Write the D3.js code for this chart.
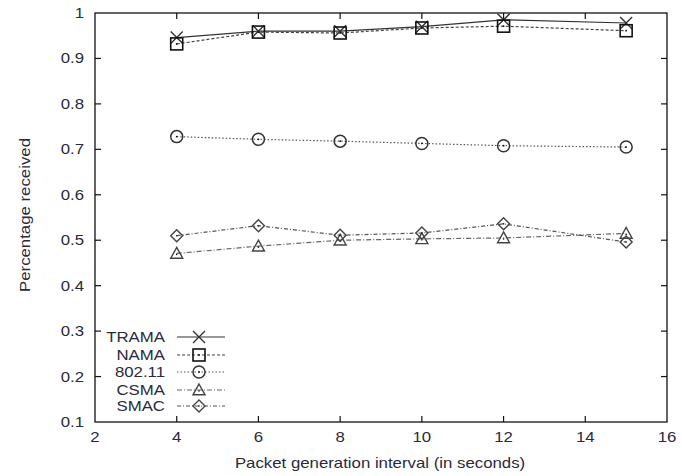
<!DOCTYPE html>
<html><head><meta charset="utf-8">
<script src="https://cdn.jsdelivr.net/npm/d3@7"></script>
<style>body{margin:0;background:#fff}svg{display:block}text{font-family:"Liberation Sans",Arial,sans-serif}</style>
</head><body><svg id="c" width="682" height="476"></svg>
<script>
const xValues = [4, 6, 8, 10, 12, 15];
const seriesNames = ["TRAMA", "NAMA", "802.11", "CSMA", "SMAC"];
const trama = [0.946, 0.960, 0.960, 0.970, 0.985, 0.978];
const nama = [0.932, 0.958, 0.956, 0.967, 0.971, 0.961];
const wifi = [0.728, 0.722, 0.718, 0.713, 0.708, 0.705];
const csma = [0.471, 0.487, 0.500, 0.503, 0.505, 0.515];
const smac = [0.510, 0.532, 0.511, 0.516, 0.536, 0.496];
const xTicks = [2, 4, 6, 8, 10, 12, 14, 16];
const yTicks = [0.1, 0.2, 0.3, 0.4, 0.5, 0.6, 0.7, 0.8, 0.9, 1];

const svg = d3.select("#c");
const L = 95, R = 667, T = 13, B = 422;
const x = d3.scaleLinear().domain([2, 16]).range([L, R]);
const y = d3.scaleLinear().domain([0.1, 1]).range([B, T]);
const txt = "#2a2a3a";
const SX = 1.2;

function label(parent, tx, ty, s, anchor, rot) {
  const tr = rot ? `translate(${tx},${ty}) rotate(-90) scale(${SX},1)` : `translate(${tx},${ty}) scale(${SX},1)`;
  return parent.append("text").attr("transform", tr).attr("text-anchor", anchor)
    .attr("font-size", 14).attr("fill", txt).text(s);
}

const series = [
  {name: seriesNames[0], v: trama, dash: null, color: "#333", sym: "x"},
  {name: seriesNames[1], v: nama, dash: "3,2", color: "#444", sym: "square"},
  {name: seriesNames[2], v: wifi, dash: "1.5,2", color: "#555", sym: "circle"},
  {name: seriesNames[3], v: csma, dash: "5,2,1,2", color: "#666", sym: "triangle"},
  {name: seriesNames[4], v: smac, dash: "4,2,1,2", color: "#555", sym: "diamond"}
];

function marker(g, sym, cx, cy, color) {
  const s = 6;
  if (sym === "x") {
    g.append("path").attr("d", `M${cx-s},${cy-s}L${cx+s},${cy+s}M${cx-s},${cy+s}L${cx+s},${cy-s}`)
      .attr("stroke", color).attr("stroke-width", 1.4).attr("fill", "none");
  } else if (sym === "square") {
    g.append("rect").attr("x", cx-s).attr("y", cy-s).attr("width", 2*s).attr("height", 2*s)
      .attr("fill", "none").attr("stroke", "#111").attr("stroke-width", 1.6);
    g.append("circle").attr("cx", cx).attr("cy", cy).attr("r", 0.9).attr("fill", "#111");
  } else if (sym === "circle") {
    g.append("circle").attr("cx", cx).attr("cy", cy).attr("r", s)
      .attr("fill", "none").attr("stroke", "#333").attr("stroke-width", 1.5);
    g.append("circle").attr("cx", cx).attr("cy", cy).attr("r", 0.9).attr("fill", "#111");
  } else if (sym === "triangle") {
    g.append("path").attr("d", `M${cx},${cy-s}L${cx+s},${cy+s*0.8}L${cx-s},${cy+s*0.8}Z`)
      .attr("fill", "none").attr("stroke", "#444").attr("stroke-width", 1.4);
    g.append("circle").attr("cx", cx).attr("cy", cy+1).attr("r", 0.8).attr("fill", "#111");
  } else if (sym === "diamond") {
    g.append("path").attr("d", `M${cx},${cy-s}L${cx+s},${cy}L${cx},${cy+s}L${cx-s},${cy}Z`)
      .attr("fill", "none").attr("stroke", "#444").attr("stroke-width", 1.4);
    g.append("circle").attr("cx", cx).attr("cy", cy).attr("r", 0.8).attr("fill", "#111");
  }
}

// frame
svg.append("rect").attr("x", L).attr("y", T).attr("width", R-L).attr("height", B-T)
  .attr("fill", "none").attr("stroke", "#111").attr("stroke-width", 1.3);

// inner ticks (mirrored)
const tl = 6;
const ax = svg.append("g").attr("stroke", "#111").attr("stroke-width", 1.2);
xTicks.forEach(t => {
  if (t === 2 || t === 16) return;
  ax.append("line").attr("x1", x(t)).attr("x2", x(t)).attr("y1", B).attr("y2", B-tl);
  ax.append("line").attr("x1", x(t)).attr("x2", x(t)).attr("y1", T).attr("y2", T+tl);
});
yTicks.forEach(t => {
  if (t === 0.1 || t === 1) return;
  ax.append("line").attr("x1", L).attr("x2", L+tl).attr("y1", y(t)).attr("y2", y(t));
  ax.append("line").attr("x1", R).attr("x2", R-tl).attr("y1", y(t)).attr("y2", y(t));
});
const xg = svg.append("g");
xTicks.forEach(t => label(xg, x(t), B+20, String(t), "middle"));
const yg = svg.append("g");
yTicks.forEach(t => label(yg, L-11, y(t)+5, t === 1 ? "1" : d3.format(".1f")(t), "end"));

label(svg, 380, 468, "Packet generation interval (in seconds)", "middle");
label(svg, 30, 215, "Percentage received", "middle", true);

// series
const line = d3.line().x((d, i) => x(xValues[i])).y(d => y(d));
series.forEach(s => {
  svg.append("path").datum(s.v).attr("d", line).attr("fill", "none")
    .attr("stroke", s.color).attr("stroke-width", 1.2)
    .attr("stroke-dasharray", s.dash);
  const g = svg.append("g");
  s.v.forEach((v, i) => marker(g, s.sym, x(xValues[i]), y(v), s.color));
});

// legend
const legY = [337, 355, 372, 390, 406];
series.forEach((s, i) => {
  const ly = legY[i];
  label(svg, 165, ly+5, s.name, "end");
  svg.append("line").attr("x1", 177).attr("x2", 225).attr("y1", ly).attr("y2", ly)
    .attr("stroke", s.color).attr("stroke-width", 1.2).attr("stroke-dasharray", s.dash);
  marker(svg.append("g"), s.sym, 199, ly, s.color);
});
</script></body></html>
